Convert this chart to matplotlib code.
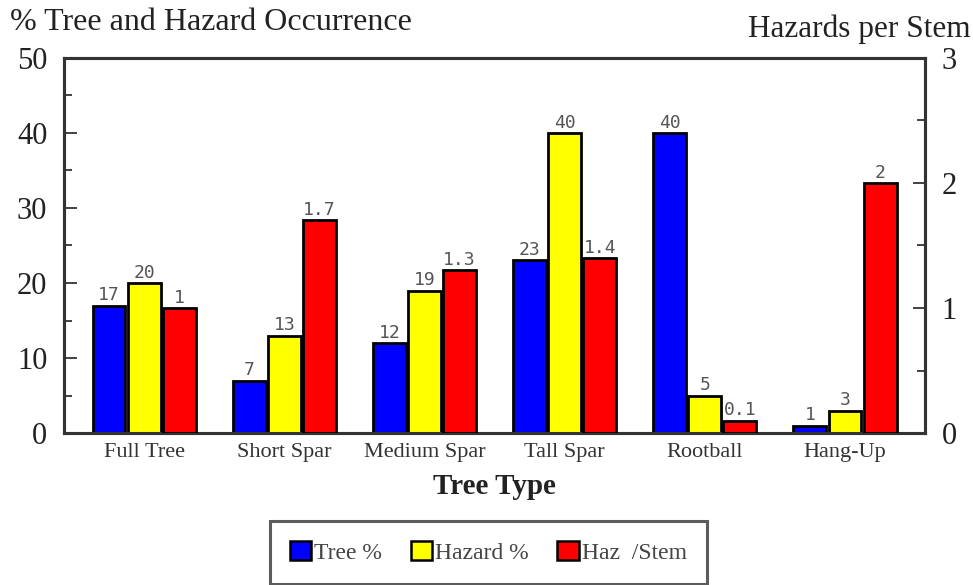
import matplotlib.pyplot as plt
import numpy as np
from matplotlib.patches import Patch

categories = ['Full Tree', 'Short Spar', 'Medium Spar', 'Tall Spar', 'Rootball', 'Hang-Up']
tree_pct = [17, 7, 12, 23, 40, 1]
hazard_pct = [20, 13, 19, 40, 5, 3]
haz_stem = [1, 1.7, 1.3, 1.4, 0.1, 2]
tree_lbl = ['17', '7', '12', '23', '40', '1']
hazard_lbl = ['20', '13', '19', '40', '5', '3']
stem_lbl = ['1', '1.7', '1.3', '1.4', '0.1', '2']

serif = 'Liberation Serif'
spine_col = '#333333'
val_col = '#555555'

fig = plt.figure(figsize=(9.73, 5.85), dpi=100)
ax = fig.add_axes([0.0658, 0.2598, 0.8849, 0.6411])
ax2 = ax.twinx()

x = np.arange(len(categories))
w = 0.235
step = 0.25

b1 = ax.bar(x - step, tree_pct, w, color='#0000ff', edgecolor='black', linewidth=2, zorder=3)
b2 = ax.bar(x, hazard_pct, w, color='#ffff00', edgecolor='black', linewidth=2, zorder=3)
b3 = ax2.bar(x + step, haz_stem, w, color='#ff0000', edgecolor='black', linewidth=2, zorder=3)

for bars, labels, a in [(b1, tree_lbl, ax), (b2, hazard_lbl, ax), (b3, stem_lbl, ax2)]:
    for b, t in zip(bars, labels):
        a.annotate(t, (b.get_x() + b.get_width() / 2, b.get_height()),
                   xytext=(0, 1), textcoords='offset points', ha='center', va='bottom',
                   fontsize=13, color=val_col, family='DejaVu Sans Mono')

ax.set_xlim(-0.571, 5.571)
ax.set_ylim(0, 50)
ax2.set_ylim(0, 3)

ax.set_yticks(range(0, 51, 10))
ax.set_yticks(range(5, 50, 10), minor=True)
ax2.set_yticks([0, 1, 2, 3])
ax2.set_yticks([0.5, 1.5, 2.5], minor=True)

ax.tick_params(axis='y', which='major', direction='in', length=9, width=1.3, color=spine_col,
               labelsize=22, pad=12)
ax.tick_params(axis='y', which='minor', direction='in', length=6, width=1.3, color=spine_col)
ax2.tick_params(axis='y', which='major', direction='in', length=9, width=1.3, color=spine_col,
                labelsize=22, pad=12)
ax2.tick_params(axis='y', which='minor', direction='in', length=6, width=1.3, color=spine_col)
for lab in ax.get_yticklabels() + ax2.get_yticklabels():
    lab.set_family(serif)
    lab.set_color('#222222')

ax.set_xticks(x)
ax.set_xticklabels(categories, family=serif, fontsize=16, color='#333333')
ax.tick_params(axis='x', direction='in', length=4, width=1, color=spine_col, pad=7)

for a in (ax, ax2):
    for s in a.spines.values():
        s.set_linewidth(2.2)
        s.set_color(spine_col)

ax.set_xlabel('Tree Type', family=serif, fontsize=21, fontweight='bold', color='#222222', labelpad=8)

fig.text(0.01, 0.962, '% Tree and Hazard Occurrence', family=serif, fontsize=23,
         color='#222222', ha='left', va='center')
fig.text(0.998, 0.950, 'Hazards per Stem', family=serif, fontsize=22.5,
         color='#222222', ha='right', va='center')

handles = [Patch(facecolor='#0000ff', edgecolor='black', linewidth=1.8, label='Tree %'),
           Patch(facecolor='#ffff00', edgecolor='black', linewidth=1.8, label='Hazard %'),
           Patch(facecolor='#ff0000', edgecolor='black', linewidth=1.8, label='Haz  /Stem')]
leg = fig.legend(handles=handles, loc='center', bbox_to_anchor=(0.502, 0.056), ncol=3,
                 frameon=True, fancybox=False, prop={'family': serif, 'size': 17},
                 handlelength=0.9, handleheight=0.9, handletextpad=0.15, columnspacing=1.2,
                 borderpad=0.85, labelcolor='#444444')
leg.get_frame().set_edgecolor('#333333')
leg.get_frame().set_linewidth(2.2)

fig.savefig('out.png', dpi=100)
